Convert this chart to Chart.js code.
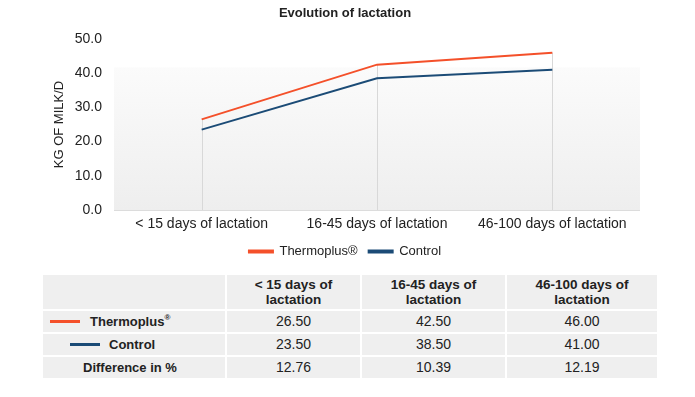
<!DOCTYPE html>
<html>
<head>
<meta charset="utf-8">
<script src="https://cdn.jsdelivr.net/npm/chart.js@4/dist/chart.umd.min.js"></script>
<style>
  html, body { margin: 0; padding: 0; background: #fff; }
  body { width: 695px; height: 397px; position: relative; overflow: hidden; font-family: "Liberation Sans", Arial, sans-serif; color: #222; }
  #wrap { position: absolute; left: 0; top: 0; width: 695px; height: 268px; }
  #tbl { position: absolute; left: 41px; top: 273px; border-collapse: separate; border-spacing: 2px; font-size: 14px; color: #222; }
  #tbl td { background: #efefef; text-align: center; padding: 0; height: 21px; line-height: 15px; }
  #tbl tr.head td { height: 34px; font-weight: bold; font-size: 13.5px; }
  #tbl td.lab { font-weight: bold; font-size: 13px; text-align: left; }
  .mk { display: inline-block; width: 30px; height: 3px; vertical-align: middle; margin-right: 10px; position: relative; top: -1px; }
  sup { font-size: 8px; vertical-align: 6px; line-height: 0; }
</style>
</head>
<body>
<div id="wrap"><canvas id="c" width="695" height="268"></canvas></div>
<table id="tbl"></table>
<script>
const categories = ["< 15 days of lactation", "16-45 days of lactation", "46-100 days of lactation"];
const tableHeaders = ["< 15 days of\nlactation", "16-45 days of\nlactation", "46-100 days of\nlactation"];
const thermoplus = [26.5, 42.5, 46.0];
const control = [23.5, 38.5, 41.0];
const differencePct = [12.76, 10.39, 12.19];
const seriesNames = ["Thermoplus®", "Control"];
const yTicks = [0, 10, 20, 30, 40, 50];

const ORANGE = "#f4502a";
const BLUE = "#1b4b76";

// table
(function buildTable(){
  const t = document.getElementById('tbl');
  const widths = [182, 133, 143, 150];
  let h = '<tr class="head"><td style="width:' + widths[0] + 'px"></td>';
  tableHeaders.forEach((s, i) => { h += '<td style="width:' + widths[i+1] + 'px">' + s.replace('\n', '<br>') + '</td>'; });
  h += '</tr>';
  h += '<tr><td class="lab" style="padding-left:7px"><span class="mk" style="background:' + ORANGE + '"></span>Thermoplus<sup>®</sup></td>';
  thermoplus.forEach(v => h += '<td>' + v.toFixed(2) + '</td>');
  h += '</tr><tr><td class="lab" style="padding-left:27px"><span class="mk" style="background:' + BLUE + ';margin-right:9px"></span>Control</td>';
  control.forEach(v => h += '<td>' + v.toFixed(2) + '</td>');
  h += '</tr><tr><td class="lab" style="padding-left:40px">Difference in %</td>';
  differencePct.forEach(v => h += '<td>' + v.toFixed(2) + '</td>');
  h += '</tr>';
  t.innerHTML = h;
})();

const bgPlugin = {
  id: 'bgPlugin',
  beforeDatasetsDraw(chart) {
    const { ctx, chartArea, scales } = chart;
    const y = scales.y, x = scales.x;
    const top = y.getPixelForValue(41.7);
    const bottom = y.getPixelForValue(0);
    const g = ctx.createLinearGradient(0, top, 0, bottom);
    g.addColorStop(0, '#fbfbfb');
    g.addColorStop(1, '#eeeeee');
    ctx.save();
    ctx.fillStyle = g;
    ctx.fillRect(chartArea.left, top, chartArea.right - chartArea.left, bottom - top);
    ctx.strokeStyle = '#dcdcdc';
    ctx.lineWidth = 1;
    ctx.beginPath();
    ctx.moveTo(chartArea.left, Math.round(bottom) + 0.5);
    ctx.lineTo(chartArea.right, Math.round(bottom) + 0.5);
    ctx.stroke();
    ctx.strokeStyle = '#d8d8d8';
    categories.forEach((c, i) => {
      const px = Math.round(x.getPixelForValue(i)) + 0.5;
      const py = y.getPixelForValue(Math.max(thermoplus[i], control[i]));
      ctx.beginPath();
      ctx.moveTo(px, py);
      ctx.lineTo(px, bottom);
      ctx.stroke();
    });
    ctx.restore();
  }
};

new Chart(document.getElementById('c'), {
  type: 'line',
  data: {
    labels: categories,
    datasets: [
      { label: seriesNames[0], data: thermoplus, borderColor: ORANGE, backgroundColor: ORANGE, borderWidth: 2, pointRadius: 0, tension: 0 },
      { label: seriesNames[1], data: control, borderColor: BLUE, backgroundColor: BLUE, borderWidth: 2, pointRadius: 0, tension: 0 }
    ]
  },
  options: {
    responsive: false,
    animation: false,
    layout: { padding: { left: 50, right: 55, top: 0, bottom: 0 } },
    plugins: {
      title: { display: true, text: 'Evolution of lactation', color: '#222', font: { family: 'Liberation Sans', size: 13, weight: 'bold' }, padding: { top: 6, bottom: 17.4 } },
      legend: {
        display: true, position: 'bottom',
        labels: { color: '#222', font: { family: 'Liberation Sans', size: 13 }, boxWidth: 24, boxHeight: 2, padding: 11 }
      },
      tooltip: { enabled: false }
    },
    scales: {
      x: {
        offset: true,
        afterFit(scale) { scale.height = 24; },
        grid: { display: false, drawTicks: false },
        border: { display: false },
        ticks: { color: '#222', font: { family: 'Liberation Sans', size: 14 }, padding: 6, maxRotation: 0 }
      },
      y: {
        min: 0, max: 50,
        afterBuildTicks(scale) { scale.ticks = yTicks.map(v => ({ value: v })); },
        afterFit(scale) { scale.width = 64; },
        grid: { display: false, drawTicks: false },
        border: { display: false },
        title: { display: true, text: 'KG OF MILK/D', color: '#222', font: { family: 'Liberation Sans', size: 13 }, padding: { top: 2, bottom: 0 } },
        ticks: { color: '#222', font: { family: 'Liberation Sans', size: 14 }, padding: 12, callback: v => Number(v).toFixed(1) }
      }
    }
  },
  plugins: [bgPlugin]
});
</script>
</body>
</html>
